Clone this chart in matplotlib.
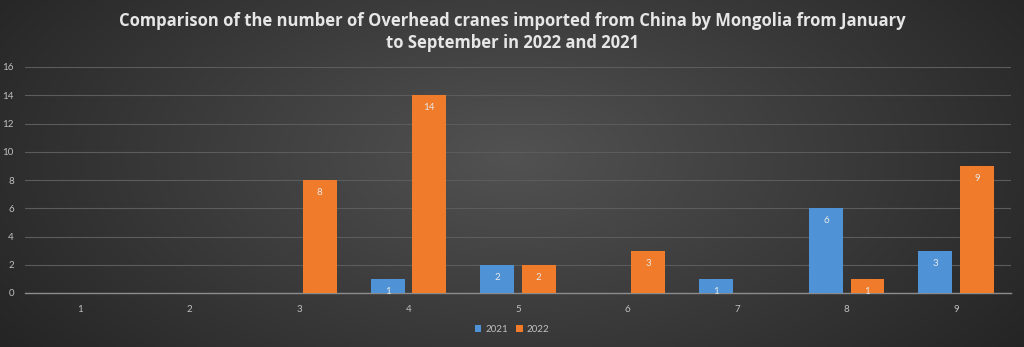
import numpy as np
import matplotlib
matplotlib.use("Agg")
import matplotlib.pyplot as plt

months = ["1", "2", "3", "4", "5", "6", "7", "8", "9"]
values_2021 = [0, 0, 0, 1, 2, 0, 1, 6, 3]
values_2022 = [0, 0, 8, 14, 2, 3, 0, 1, 9]
series_names = ["2021", "2022"]
yticks = [0, 2, 4, 6, 8, 10, 12, 14, 16]
title = ("Comparison of the number of Overhead cranes imported from China by Mongolia from January\n"
         "to September in 2022 and 2021")

plt.rcParams['font.family'] = ['Lato', 'DejaVu Sans']

W, H = 1024, 347
fig = plt.figure(figsize=(W / 100, H / 100), dpi=100)

# radial gradient background
bg = fig.add_axes([0, 0, 1, 1], zorder=-10)
yy, xx = np.mgrid[0:H, 0:W]
cx, cy = W / 2, H * 0.45
r = np.sqrt(((xx - cx) / (W * 0.62)) ** 2 + ((yy - cy) / (H * 0.95)) ** 2)
r = np.clip(r, 0, 1)
c0 = np.array([0x52, 0x52, 0x52]) / 255
c1 = np.array([0x24, 0x24, 0x24]) / 255
img = c0[None, None, :] * (1 - r[..., None]) + c1[None, None, :] * r[..., None]
bg.imshow(img, aspect='auto', extent=[0, 1, 0, 1])
bg.axis('off')

ax = fig.add_axes([25 / W, 1 - 293 / H, (1011 - 25) / W, (293 - 67) / H])
ax.patch.set_alpha(0)

x = np.arange(len(months))
bw = 0.31
off = 0.19
blue = "#4f93d6"
orange = "#f07b2a"
b1 = ax.bar(x - off, values_2021, bw, color=blue, label=series_names[0], zorder=3)
b2 = ax.bar(x + off, values_2022, bw, color=orange, label=series_names[1], zorder=3)

for bars, vals in ((b1, values_2021), (b2, values_2022)):
    for rect, v in zip(bars, vals):
        if v > 0:
            ax.annotate(str(v), (rect.get_x() + rect.get_width() / 2, v),
                        xytext=(0, -9), textcoords='offset points',
                        ha='center', va='center', fontsize=7, color='#e8e8e8', zorder=4)

ax.set_xlim(-0.5, len(months) - 0.5)
ax.set_ylim(0, 16)
ax.set_yticks(yticks)
ax.set_xticks(x)
ax.set_xticklabels(months)
ax.grid(axis='y', color='#5c5c5c', linewidth=0.8, zorder=0)
for s in ['top', 'right', 'left']:
    ax.spines[s].set_visible(False)
ax.spines['bottom'].set_color('#8c8c8c')
ax.spines['bottom'].set_linewidth(1.0)
ax.tick_params(axis='both', length=0, colors='#c0c0c0', labelsize=7)
ax.tick_params(axis='x', pad=9)
ax.tick_params(axis='y', pad=8)

fig.text(0.5, 1 - 32 / H, title, ha='center', va='center', fontsize=12,
         fontweight='bold', color='#e6e6e6', linespacing=1.35,
         family=['Open Sans', 'DejaVu Sans'])

leg = fig.legend(handles=[b1, b2], labels=series_names, loc='center',
                 bbox_to_anchor=(0.5, 1 - 329 / H), ncol=2, frameon=False,
                 fontsize=7, labelcolor='#c0c0c0', handlelength=0.7,
                 handleheight=0.7, handletextpad=0.4, columnspacing=0.8)

fig.savefig("out.png", dpi=100)
